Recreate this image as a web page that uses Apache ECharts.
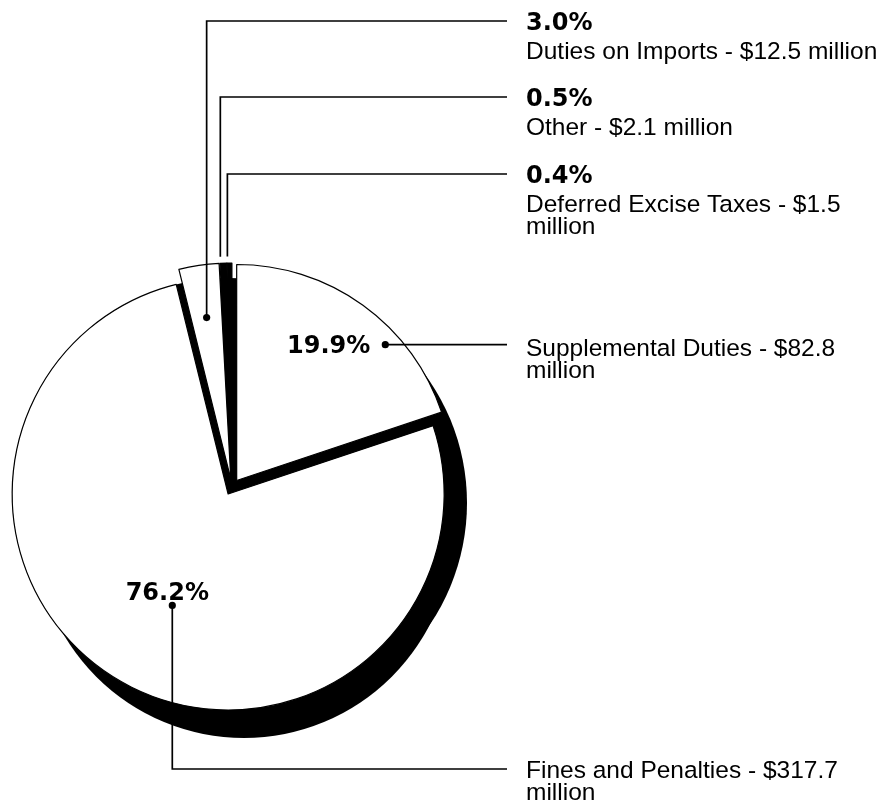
<!DOCTYPE html>
<html>
<head>
<meta charset="utf-8">
<script src="https://cdn.jsdelivr.net/npm/echarts@6/dist/echarts.min.js"></script>
<style>
  html, body { margin: 0; padding: 0; background: #fff; }
  #chart { width: 879px; height: 810px; }
</style>
</head>
<body>
<div id="chart"></div>
<script>
// Revenue sources, $ million, listed clockwise from 12 o'clock
const categories = ['Supplemental Duties', 'Fines and Penalties', 'Duties on Imports', 'Other', 'Deferred Excise Taxes'];
const amounts = [82.8, 317.7, 12.5, 2.1, 1.5];
const shareLabels = ['19.9%', '76.2%', '3.0%', '0.5%', '0.4%'];

// Drawing setup
const PIE_CENTER = [232, 487];
const PIE_RADIUS = 216;
const EXPLODE = 8;
const INK = '#000';
const PAPER = '#fff';
const sliceFill = [PAPER, PAPER, PAPER, INK, INK];
const BASE_SLICE = 1;   // the large slice whose footprint carries the dark base

const TEXT_X = 526;
const LINE_END = 507;
const BOLD = { fontFamily: 'DejaVu Sans', fontWeight: 'bold', fontSize: 24 };
const PLAIN = { fontFamily: '"Liberation Sans", Arial, sans-serif', fontWeight: 'normal', fontSize: 24.5 };
const LINE_H = 22.5;
const WRAP_W = 353;

// Where each callout leaves its slice (fraction of the slice's sweep, fraction of radius)
// and how it is routed to the text column.
const callouts = [
  { t: 0.665, rf: 0.932, route: 'right', dot: true },
  { t: 0.492, rf: 0.577, route: 'down', rowY: 769, dot: true },
  { t: 0.5, rf: 0.756, route: 'up', rowY: 21, dot: true },
  { t: 0.1, rf: 1.03, route: 'up', rowY: 97, dot: false },
  { t: 0.1, rf: 1.03, route: 'up', rowY: 174, dot: false }
];

const chart = echarts.init(document.getElementById('chart'), null, { renderer: 'canvas' });

function disc(center, radius) {
  return {
    type: 'pie', silent: true, center: center, radius: radius, startAngle: 90,
    label: { show: false }, labelLine: { show: false }, emphasis: { disabled: true },
    itemStyle: { color: INK, borderWidth: 0 },
    data: [{ value: 1 }]
  };
}

chart.setOption({
  animation: false,
  backgroundColor: PAPER,
  series: [
    // solid body of the pie seen below the top face
    disc([PIE_CENTER[0] + 12, PIE_CENTER[1] + 42], PIE_RADIUS - 7),
    disc([PIE_CENTER[0] + 17, PIE_CENTER[1] + 16], PIE_RADIUS + 2),
    disc(PIE_CENTER, PIE_RADIUS),
    {
      type: 'pie',
      silent: true,
      center: PIE_CENTER,
      radius: PIE_RADIUS,
      startAngle: 90,
      clockwise: true,
      selectedMode: 'multiple',
      selectedOffset: EXPLODE,
      avoidLabelOverlap: false,
      label: { show: false },
      labelLine: { show: false },
      emphasis: { disabled: true },
      itemStyle: { borderColor: INK, borderWidth: 1.2 },
      data: categories.map((name, i) => ({
        name: name,
        value: amounts[i],
        selected: true,
        itemStyle: { color: sliceFill[i] },
        select: { itemStyle: { color: sliceFill[i], borderColor: INK, borderWidth: 1.2 } }
      }))
    }
  ]
});

// Slice geometry as laid out by the pie series
const sliceData = chart.getModel().getSeriesByIndex(3).getData();
function sliceOrigin(i) {
  const lay = sliceData.getItemLayout(i);
  const mid = (lay.startAngle + lay.endAngle) / 2;
  return [lay.cx + EXPLODE * Math.cos(mid), lay.cy + EXPLODE * Math.sin(mid)];
}

// The dark base sits under the pulled-out large slice, so the seams between slices read as solid
const baseCenter = sliceOrigin(BASE_SLICE);

const elements = [];
function textEl(x, y, text, font, extra) {
  return {
    type: 'text', x: x, y: y, silent: true, z: 10,
    style: Object.assign({ text: text, fill: INK }, font, extra || {})
  };
}

categories.forEach((name, i) => {
  const c = callouts[i];
  const lay = sliceData.getItemLayout(i);
  const o = sliceOrigin(i);
  const a = lay.startAngle + c.t * (lay.endAngle - lay.startAngle);
  const px = o[0] + c.rf * lay.r * Math.cos(a);
  const py = o[1] + c.rf * lay.r * Math.sin(a);

  const pts = c.route === 'right'
    ? [[px, py], [LINE_END, py]]
    : [[px, py], [px, c.rowY], [LINE_END, c.rowY]];
  elements.push({
    type: 'polyline', silent: true, z: 9,
    shape: { points: pts },
    style: { stroke: INK, lineWidth: 1.7, fill: null }
  });
  if (c.dot) {
    elements.push({
      type: 'circle', silent: true, z: 11,
      shape: { cx: px, cy: py, r: 3.6 },
      style: { fill: INK, stroke: null }
    });
  }

  const desc = name + ' - $' + amounts[i] + ' million';
  const descStyle = { width: WRAP_W, overflow: 'break', lineHeight: LINE_H, verticalAlign: 'top', align: 'left' };
  const pctStyle = { verticalAlign: 'middle' };

  if (c.route === 'up') {
    elements.push(textEl(TEXT_X, c.rowY + 3, shareLabels[i], BOLD, Object.assign({ align: 'left' }, pctStyle)));
    elements.push(textEl(TEXT_X, c.rowY + 31 - LINE_H / 2, desc, PLAIN, descStyle));
  } else if (c.route === 'right') {
    elements.push(textEl(px - 15, py + 2, shareLabels[i], BOLD, Object.assign({ align: 'right' }, pctStyle)));
    elements.push(textEl(TEXT_X, py + 4.5 - LINE_H / 2, desc, PLAIN, descStyle));
  } else {
    elements.push(textEl(px - 5, py - 12, shareLabels[i], BOLD, Object.assign({ align: 'center' }, pctStyle)));
    elements.push(textEl(TEXT_X, c.rowY + 2 - LINE_H / 2, desc, PLAIN, descStyle));
  }
});

chart.setOption({
  series: [{}, {}, { center: baseCenter }],
  graphic: { elements: elements }
});
</script>
</body>
</html>
